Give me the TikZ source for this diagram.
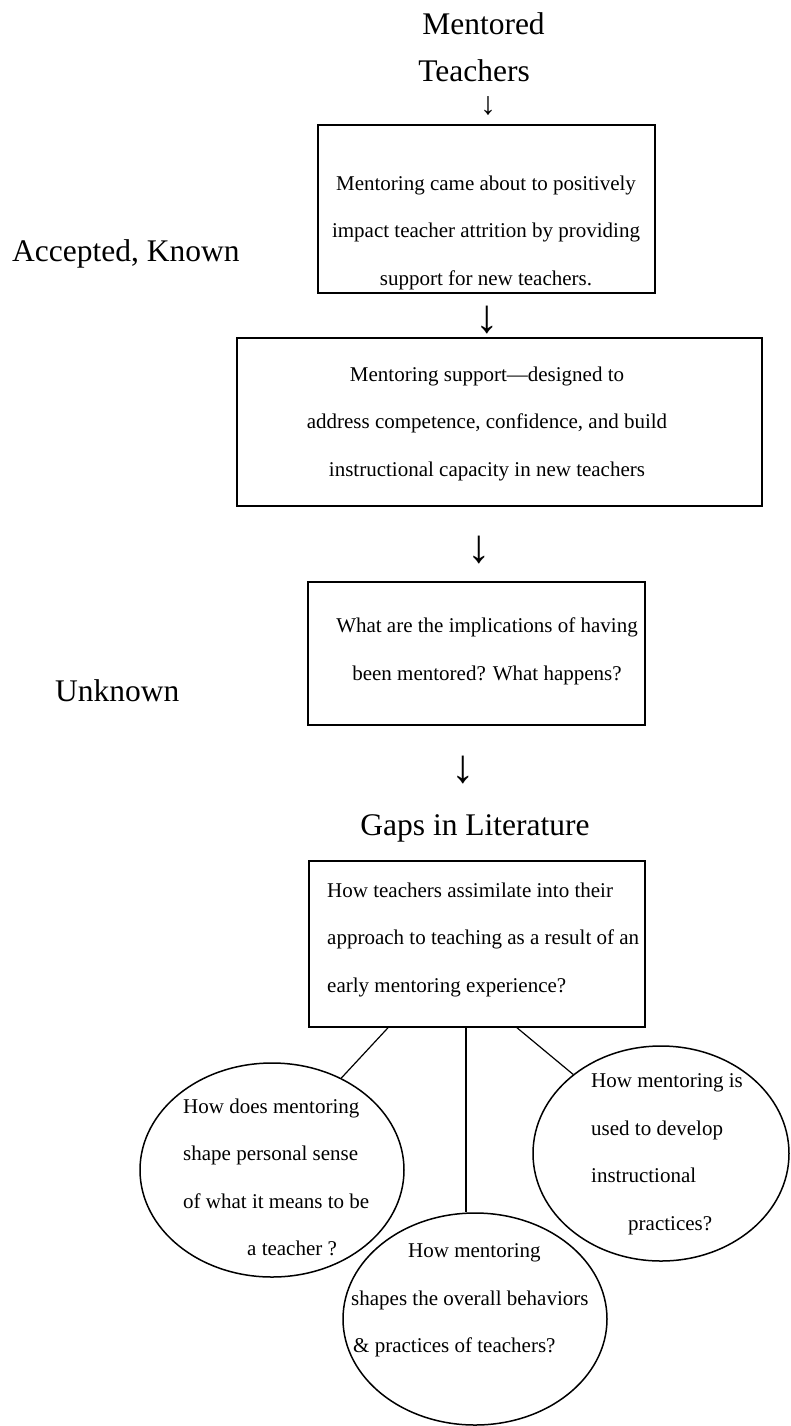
\documentclass[tikz,border=0pt]{standalone}
\usepackage{fontspec}
\setmainfont{Liberation Serif}
\usetikzlibrary{shapes.geometric}

\begin{document}
\begin{tikzpicture}[x=1pt,y=-1pt,
    box/.style={draw,line width=1.5pt,inner sep=0pt},
    bubble/.style={draw,ellipse,line width=1.5pt,inner sep=0pt},
    small/.style={font=\fontsize{21}{47.5}\selectfont,inner sep=0pt},
    big/.style={font=\fontsize{31.5}{40}\selectfont,inner sep=0pt,anchor=base},
    arr/.style={font=\fontsize{47}{50}\selectfont,inner sep=0pt},
    link/.style={line width=1.2pt}]
    \useasboundingbox (0,0) rectangle (790,1426);
    \def\asc {14.4}

    \node[big] (mentored) at (483.5,35) {Mentored};
    \node[big] (teachers) at (474,82) {Teachers};
    \node[big,anchor=base west] (known) at (12,261) {Accepted, Known};
    \node[big,anchor=base west] (unknown) at (55,701) {Unknown};
    \node[big] (gapstitle) at (475,835) {Gaps in Literature};

    \node[box,minimum width=337,minimum height=168] (attrition) at (486.5,209) {};
    \node[box,minimum width=525,minimum height=168] (support) at (499.5,422) {};
    \node[box,minimum width=337,minimum height=143] (implications) at (476.5,653.5) {};
    \node[box,minimum width=336,minimum height=166] (gaps) at (477,944) {};

    \node[small,align=center,anchor=north] (attritiontext) at (486,190-\asc)
        {Mentoring came about to positively\\impact teacher attrition by providing\\support for new teachers.};
    \node[small,align=center,anchor=north] (supporttext) at (487,381-\asc)
        {Mentoring support—designed to\\address competence, confidence, and build\\instructional capacity in new teachers};
    \node[small,align=center,anchor=north] (implicationstext) at (487,632-\asc)
        {What are the implications of having\\been mentored? What happens?};
    \node[small,align=left,anchor=north west] (gapstext) at (327,897-\asc)
        {How teachers assimilate into their\\approach to teaching as a result of an\\early mentoring experience?};

    \node[arr,scale=0.68] (arr1) at (488,106) {↓};
    \node[arr] (arr2) at (487,320) {↓};
    \node[arr] (arr3) at (479,550) {↓};
    \node[arr] (arr4) at (463,770) {↓};

    \node[bubble,minimum width=264,minimum height=214] (sense) at (272,1170) {};
    \node[bubble,minimum width=264,minimum height=212] (behaviors) at (475,1319) {};
    \node[bubble,minimum width=256,minimum height=215] (develop) at (661,1153.5) {};

    \node[small,align=left,anchor=north west] (sensetext) at (183,1113-\asc)
        {How does mentoring\\shape personal sense\\of what it means to be\\\hspace*{64pt}a teacher ?};
    \node[small,align=left,anchor=north west] (behaviorstext) at (351,1258-\asc)
        {\hspace*{57pt}How mentoring\\shapes the overall behaviors\\\hspace*{2pt}\& practices of teachers?};
    \node[small,align=left,anchor=north west] (developtext) at (591,1088-\asc)
        {How mentoring is\\used to develop\\instructional\\\hspace*{37pt}practices?};

    \draw[link] ([xshift=-89]gaps.south) -- (sense.53);
    \draw[link] ([xshift=-11]gaps.south) coordinate (mid) -- (mid |- behaviors.north);
    \draw[link] ([xshift=40]gaps.south) -- (develop.138);
\end{tikzpicture}
\end{document}
